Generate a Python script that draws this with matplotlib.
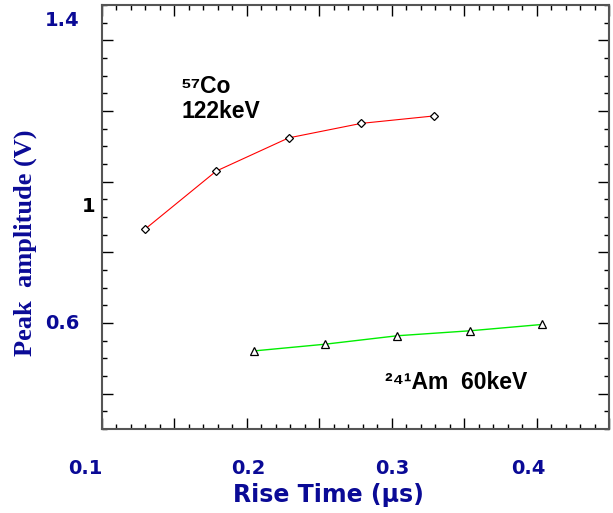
import matplotlib
matplotlib.use("Agg")
import matplotlib.pyplot as plt
from matplotlib.ticker import MultipleLocator
from matplotlib.transforms import offset_copy, blended_transform_factory

# data
co_rise = [0.130, 0.179, 0.229, 0.279, 0.329]
co_peak = [0.866, 1.030, 1.124, 1.165, 1.186]
am_rise = [0.205, 0.254, 0.304, 0.354, 0.404]
am_peak = [0.521, 0.540, 0.564, 0.578, 0.596]

xtick_vals = [0.1, 0.2, 0.3, 0.4]
xtick_text = ["0.1", "0.2", "0.3", "0.4"]
ytick_vals = [1.4, 1.0, 0.6]
ytick_text = ["1.4", "1", "0.6"]

BLUE = "#0a0a96"
SANS = ["Liberation Sans", "DejaVu Sans"]

fig = plt.figure(figsize=(6.13, 5.13), dpi=100)
ax = fig.add_axes([0.1659, 0.1637, 0.8276, 0.8265])

ax.plot(co_rise, co_peak, color="red", lw=0.8, marker="D", ms=4.5,
        mfc="white", mec="black", mew=0.9)
ax.plot(am_rise, am_peak, color="#00ee00", lw=1.0, marker="^", ms=6,
        mfc="white", mec="black", mew=0.9)

ax.set_xlim(0.1, 0.45)
ax.set_ylim(0.3, 1.5)
ax.xaxis.set_major_locator(MultipleLocator(0.05))
ax.xaxis.set_minor_locator(MultipleLocator(0.01))
ax.yaxis.set_major_locator(MultipleLocator(0.2))
ax.yaxis.set_minor_locator(MultipleLocator(0.05))
ax.tick_params(which="both", direction="in", top=True, right=True,
               labelbottom=False, labelleft=False, color="black", width=1.0)
ax.tick_params(which="major", length=8)
ax.tick_params(which="minor", length=3.6)
for s in ax.spines.values():
    s.set_color("#555555")
    s.set_linewidth(1.5)

# tick labels, slightly off their ticks as in the original
x_off = [-16.7, 1.8, 0.7, -8.5]
tb = blended_transform_factory(ax.transData, ax.transAxes)
for v, t, dx in zip(xtick_vals, xtick_text, x_off):
    tr = offset_copy(tb, fig=fig, x=dx, y=-39, units="dots")
    ax.text(v, 0, t, transform=tr, ha="center", va="center",
            fontsize=14, fontweight="bold", color=BLUE, family="DejaVu Sans")

y_off = [19.7, -25, 0]
y_dx = [-22.7, -6.7, -21.7]
y_col = [BLUE, "black", BLUE]
tl = blended_transform_factory(ax.transAxes, ax.transData)
for v, t, dy, dx, c in zip(ytick_vals, ytick_text, y_off, y_dx, y_col):
    tr = offset_copy(tl, fig=fig, x=dx, y=dy, units="dots")
    ax.text(0, v, t, transform=tr, ha="right", va="center",
            fontsize=14, fontweight="bold", color=c, family="DejaVu Sans")

# annotations
ax.text(0.156, 0.792, "\u2075\u2077Co", transform=ax.transAxes, va="baseline",
        fontsize=16.5, fontweight="bold", family=SANS)
ax.text(0.158, 0.733, "122keV", transform=ax.transAxes, va="baseline",
        fontsize=16.5, fontweight="bold", family=SANS)
ax.text(0.558, 0.094, "\u00b2\u2074\u00b9Am  60keV", transform=ax.transAxes,
        va="baseline", fontsize=16.5, fontweight="bold", family=SANS)

fig.text(328 / 613, 1 - 495 / 513, "Rise Time (\u03bcs)", ha="center",
         va="center", fontsize=17, fontweight="bold", color=BLUE,
         family="DejaVu Sans")
fig.text(25 / 613, 1 - 243 / 513, "Peak  amplitude (V)", ha="center",
         va="center", rotation=90, fontsize=19, fontweight="bold",
         color=BLUE, family="Liberation Serif")

fig.savefig("out.png", dpi=100)
